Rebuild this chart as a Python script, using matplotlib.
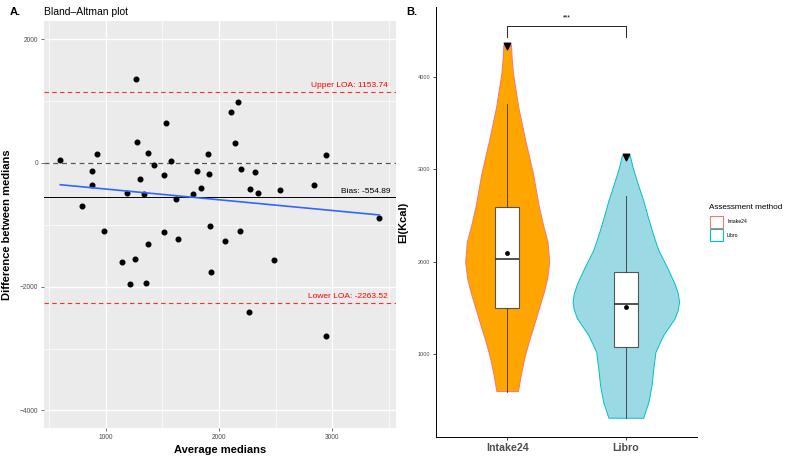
import numpy as np
import matplotlib
matplotlib.use('Agg')
import matplotlib.pyplot as plt
from matplotlib.patches import Rectangle

plt.rcParams['font.family'] = ['Liberation Sans', 'DejaVu Sans']

# ---- panel A: Bland-Altman data ----
avg_medians = [599, 793, 879, 882, 921, 1265, 1188, 1276, 1300, 1338, 1376, 1424,
               1517, 1532, 1574, 1623, 1771, 1806, 1844, 1906, 1915, 1923, 2103,
               2138, 2168, 2191, 2276, 2315, 2347, 2538, 2836, 2942, 3415,
               982, 1141, 1212, 1261, 1356, 1376, 1512, 1641, 1927, 2050, 2185,
               2488, 2267, 2944]
diff_medians = [53, -690, -129, -361, 140, 1353, -490, 344, -264, -501, 167, -32,
                -189, 647, 27, -587, -506, -134, -409, 151, -183, -1013, 819,
                323, 991, -92, -415, -151, -480, -442, -361, 124, -895,
                -1105, -1595, -1956, -1552, -1940, -1315, -1121, -1229, -1762, -1266, -1105,
                -1574, -2409, -2797]
bias = -554.89
upper_loa = 1153.74
lower_loa = -2263.52

# ---- panel B: violin profiles (value, half width) and box stats ----
methods = ['Intake24', 'Libro']
intake_y = [4350, 4200, 4039, 3677, 3317, 2957, 2595, 2396, 2216, 2000, 1820, 1675,
            1496, 1315, 1134, 955, 774, 600]
intake_w = [0.032, 0.038, 0.049, 0.093, 0.152, 0.217, 0.267, 0.303, 0.340, 0.354,
            0.337, 0.309, 0.267, 0.225, 0.181, 0.143, 0.114, 0.091]
libro_y = [3150, 3028, 2848, 2668, 2487, 2307, 2127, 1946, 1766, 1660, 1567, 1480,
           1387, 1207, 1026, 846, 665, 485, 312]
libro_w = [0.034, 0.056, 0.099, 0.146, 0.185, 0.227, 0.274, 0.345, 0.410, 0.438,
           0.449, 0.438, 0.411, 0.316, 0.250, 0.232, 0.217, 0.191, 0.147]
q1 = [1496, 1080]
med = [2032, 1545]
q3 = [2595, 1888]
whislo = [593, 312]
whishi = [3707, 2708]
means = [2094, 1513]
maxima = [4338, 3130]

fills = ['#FFA500', '#9BDAE5']
edges = ['#F8766D', '#00BFC4']

fig = plt.figure(figsize=(7.93, 4.58), dpi=100)

# ---------------- A ----------------
ax = fig.add_axes([44/793, 1-428/458, 352/793, 407/458])
ax.set_facecolor('#EBEBEB')
for s in ax.spines.values():
    s.set_visible(False)
ax.set_xlim(455, 3562)
ax.set_ylim(-4285, 2296)
ax.set_xticks([1000, 2000, 3000])
ax.set_yticks([-4000, -2000, 0, 2000])
ax.set_xticks([500, 1500, 2500, 3500], minor=True)
ax.set_yticks([-3000, -1000, 1000], minor=True)
ax.grid(True, which='major', color='white', lw=1.0)
ax.grid(True, which='minor', color='white', lw=0.5)
ax.set_axisbelow(True)
ax.tick_params(which='major', labelsize=4.8, labelcolor='#4D4D4D', color='#333333',
               length=2.5, width=0.5, pad=1.5)
ax.tick_params(which='minor', length=0)

ax.axhline(upper_loa, color='#FF0000', ls=(0, (4, 3)), lw=0.8, alpha=0.8)
ax.axhline(lower_loa, color='#FF0000', ls=(0, (4, 3)), lw=0.8, alpha=0.8)
ax.axhline(0, color='#555555', ls=(0, (4, 3)), lw=0.9)
ax.axhline(bias, color='black', lw=0.7)

ax.scatter(avg_medians, diff_medians, s=11, color='black', zorder=3)
coef = np.polyfit(avg_medians, diff_medians, 1)
xs = np.array([min(avg_medians), max(avg_medians)])
ax.plot(xs, np.polyval(coef, xs), color='#3366FF', lw=1.2, zorder=4)

ax.text(3490, upper_loa + 100, f'Upper LOA: {upper_loa}', color='#FF0000',
        fontsize=6, ha='right', va='center')
ax.text(3510, bias + 90, f'Bias: {bias}', color='black',
        fontsize=6, ha='right', va='center')
ax.text(3490, lower_loa + 100, f'Lower LOA: {lower_loa}', color='#FF0000',
        fontsize=6, ha='right', va='center')

ax.set_xlabel('Average medians', fontsize=8, fontweight='bold')
ax.set_ylabel('Difference between medians', fontsize=8, fontweight='bold')
ax.xaxis.set_label_coords(0.5, -0.042)
ax.yaxis.set_label_coords(-0.091, 0.5)
fig.text(44/793, 1-12/458, 'Bland\u2013Altman plot', fontsize=7.5, va='center')
fig.text(10/793, 1-12/458, 'A.', fontsize=8, fontweight='bold', va='center')

# ---------------- B ----------------
bx = fig.add_axes([436/793, 1-437/458, 261/793, 430/458])
bx.set_xlim(0.4, 2.6)
bx.set_ylim(103, 4757)
for s in ['top', 'right']:
    bx.spines[s].set_visible(False)
for s in ['left', 'bottom']:
    bx.spines[s].set_linewidth(0.7)
pos = [1, 2]
profiles = [(intake_y, intake_w), (libro_y, libro_w)]
for p, (yy, ww), fc, ec in zip(pos, profiles, fills, edges):
    yy = np.array(yy)
    ww = np.array(ww)
    bx.fill_betweenx(yy, p - ww, p + ww, facecolor=fc, edgecolor=ec, lw=0.7, zorder=1)

stats = [dict(q1=q1[i], med=med[i], q3=q3[i], whislo=whislo[i], whishi=whishi[i],
              fliers=[]) for i in range(2)]
bx.bxp(stats, positions=pos, widths=0.2, patch_artist=True, showcaps=False,
       boxprops=dict(facecolor='white', edgecolor='#555555', lw=0.8),
       medianprops=dict(color='#333333', lw=1.2),
       whiskerprops=dict(color='#333333', lw=0.6), zorder=2)
bx.scatter(pos, means, s=6, color='black', zorder=3)
bx.scatter(pos, maxima, marker='v', s=22, color='black', zorder=3)

# significance bracket
bx.plot([1, 1, 2, 2], [4428, 4551, 4551, 4428], color='black', lw=0.6)
bx.text(1.5, 4600, '***', ha='center', va='bottom', fontsize=5)

bx.set_xticks(pos)
bx.set_xticklabels(methods, fontsize=7.7, fontweight='bold', color='#4D4D4D')
bx.set_yticks([1000, 2000, 3000, 4000])
bx.tick_params(axis='y', labelsize=4, labelcolor='#4D4D4D', length=2.5, width=0.5, pad=1.5)
bx.tick_params(axis='x', length=2.5, width=0.5, pad=2)
bx.set_ylabel('EI(Kcal)', fontsize=8, fontweight='bold')
bx.yaxis.set_label_coords(-0.107, 0.5)
fig.text(406/793, 1-12/458, 'B.', fontsize=8, fontweight='bold', va='center')

# legend
fig.text(709/793, 1-207.5/458, 'Assessment method', fontsize=5.9, va='center')
for i, (lab, ec) in enumerate(zip(methods, edges)):
    ytop = 215.7 + i * 13.6
    fig.add_artist(Rectangle((709.5/793, 1-(ytop+12.2)/458), 13/793, 12.2/458,
                             transform=fig.transFigure, facecolor='white',
                             edgecolor=ec, lw=0.8))
    fig.text(727/793, 1-(ytop+6.1)/458, lab, fontsize=3.7, va='center')

fig.savefig('out.png', dpi=100)
